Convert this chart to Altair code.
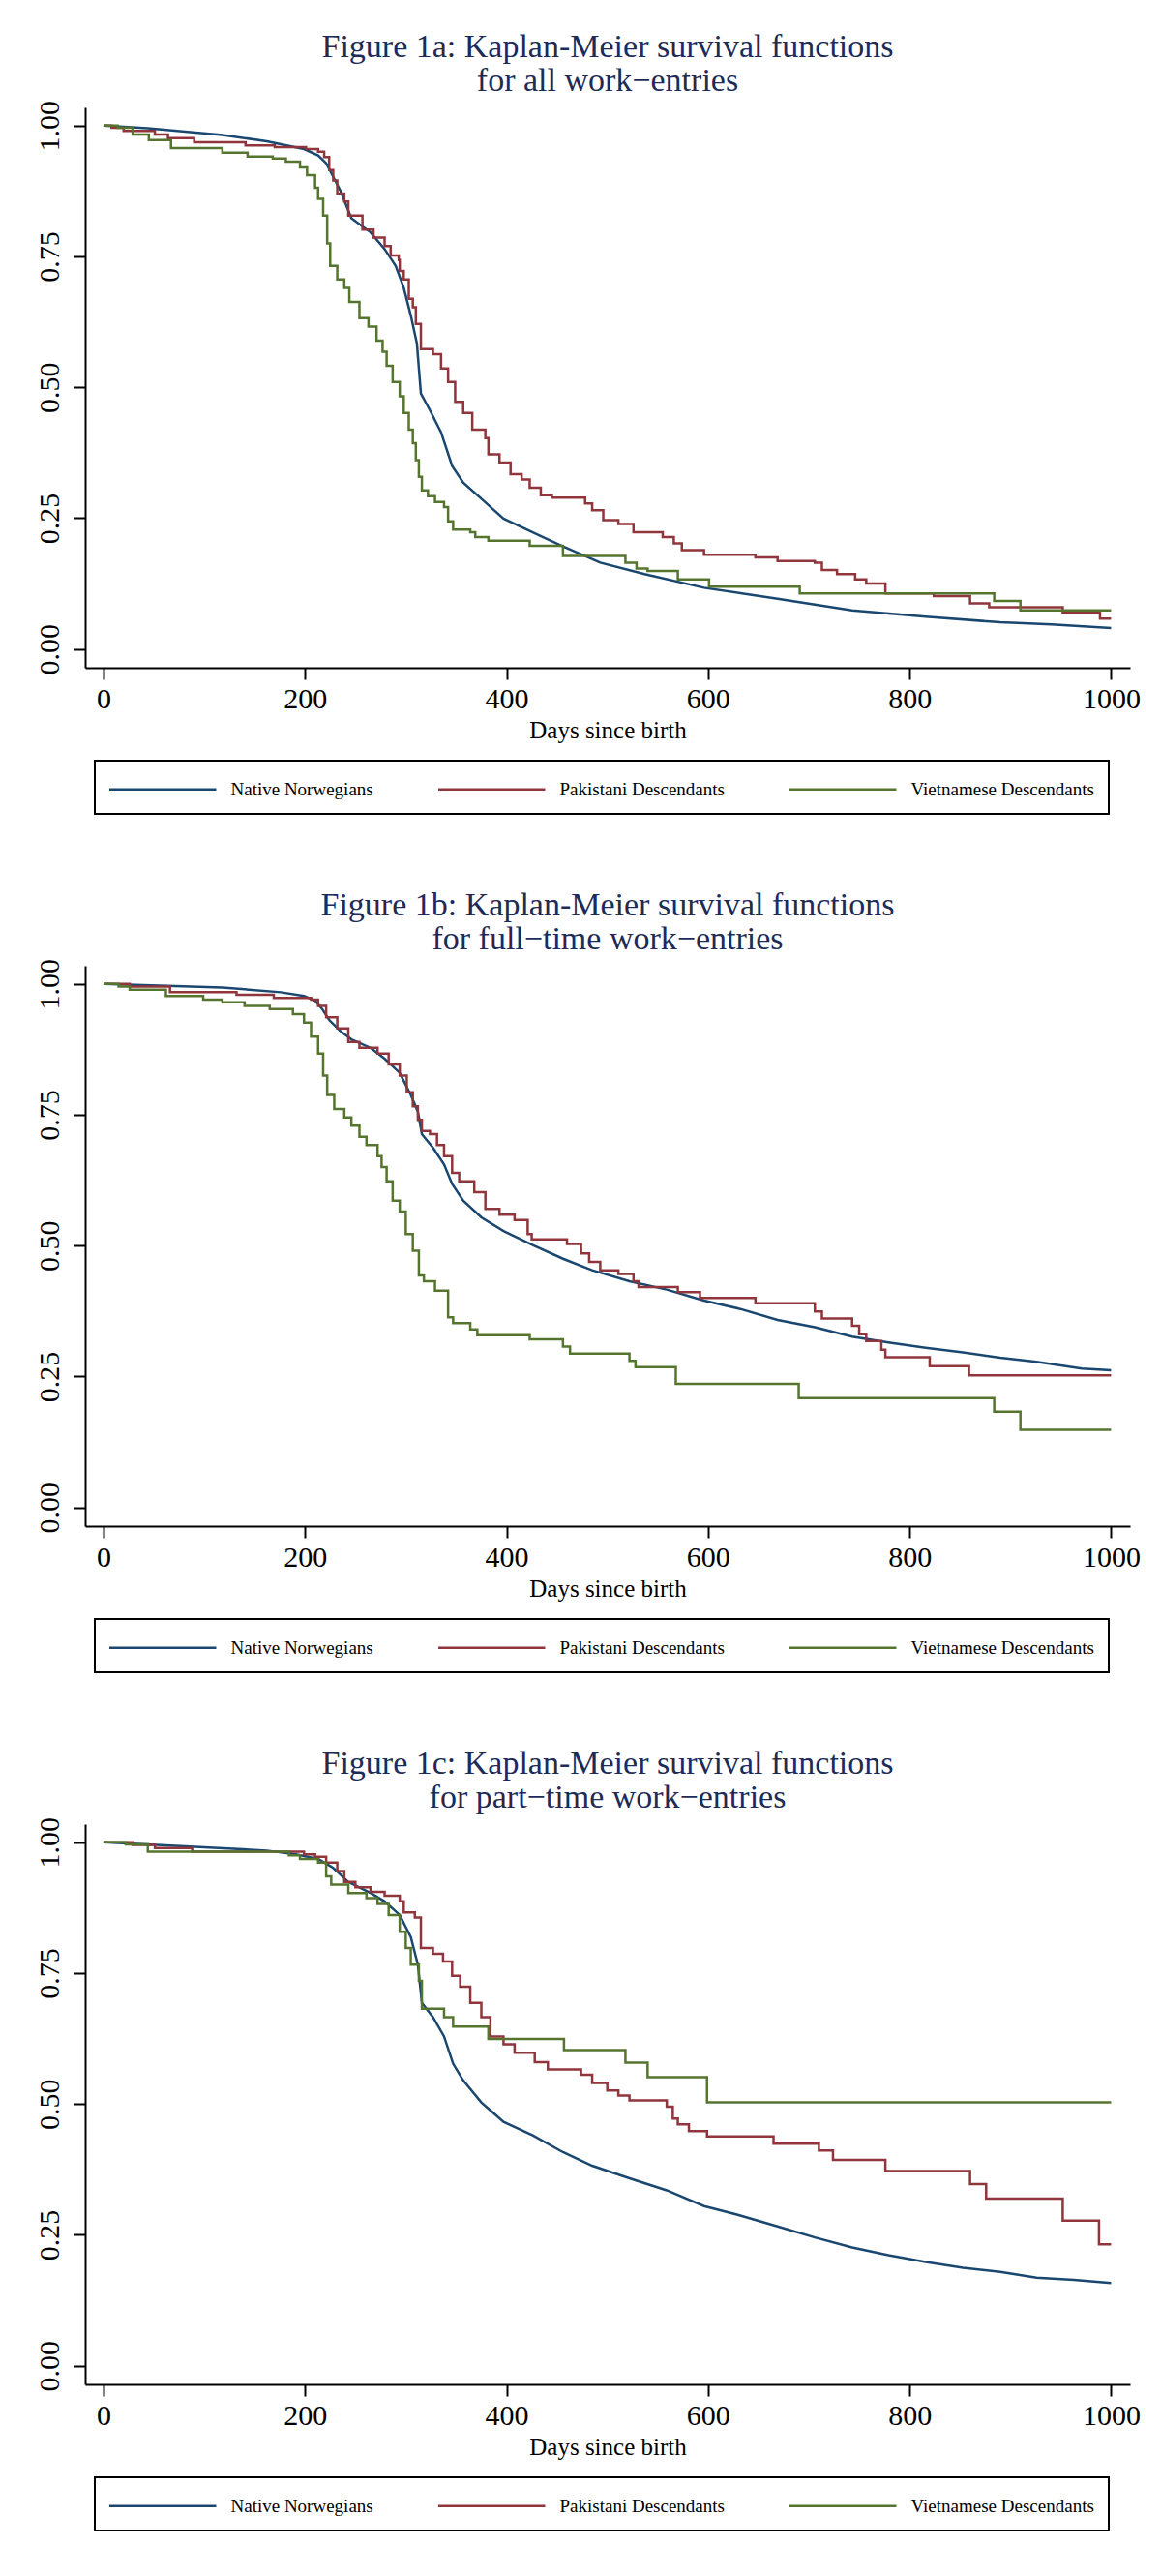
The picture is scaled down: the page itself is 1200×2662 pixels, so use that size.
import altair as alt
import pandas as pd

GROUPS = ["Native Norwegians", "Pakistani Descendants", "Vietnamese Descendants"]
COLORS = ["#1a476f", "#90353b", "#55752f"]
X_TICKS = [0, 200, 400, 600, 800, 1000]
Y_TICKS = [0.0, 0.25, 0.5, 0.75, 1.0]

TITLES = [
    ["Figure 1a: Kaplan-Meier survival functions", "for all work\u2212entries"],
    ["Figure 1b: Kaplan-Meier survival functions", "for full\u2212time work\u2212entries"],
    ["Figure 1c: Kaplan-Meier survival functions", "for part\u2212time work\u2212entries"],
]

# ---- Figure 1a: all work-entries (day, survival) ----
P1_NATIVE = [(0, 1.000), (44, 0.995), (118, 0.982), (162, 0.970), (199, 0.955), (213, 0.943),
             (221, 0.928), (228, 0.902), (235, 0.876), (246, 0.823), (265, 0.796), (279, 0.764),
             (290, 0.732), (298, 0.690), (305, 0.637), (311, 0.584), (315, 0.488), (324, 0.456),
             (335, 0.414), (346, 0.350), (357, 0.318), (375, 0.287), (397, 0.249), (426, 0.223),
             (456, 0.196), (493, 0.165), (537, 0.143), (596, 0.117), (669, 0.096), (743, 0.074),
             (816, 0.062), (890, 0.051), (941, 0.047), (1000, 0.040)]
P1_PAKISTANI = [(0, 1.000), (8, 0.996), (20, 0.990), (51, 0.983), (64, 0.976), (90, 0.968),
                (141, 0.962), (170, 0.959), (201, 0.955), (213, 0.950), (219, 0.940), (224, 0.915),
                (228, 0.895), (232, 0.870), (239, 0.855), (243, 0.828), (257, 0.801), (268, 0.786),
                (279, 0.770), (285, 0.752), (293, 0.743), (294, 0.722), (298, 0.706), (303, 0.669),
                (307, 0.653), (310, 0.621), (315, 0.573), (327, 0.563), (335, 0.536), (342, 0.510),
                (349, 0.472), (357, 0.451), (366, 0.419), (379, 0.403), (382, 0.372), (393, 0.356),
                (404, 0.334), (415, 0.324), (423, 0.308), (434, 0.294), (445, 0.289), (478, 0.278),
                (485, 0.265), (496, 0.246), (511, 0.239), (526, 0.223), (555, 0.214), (566, 0.202),
                (574, 0.189), (596, 0.180), (647, 0.175), (669, 0.168), (706, 0.165), (713, 0.151),
                (728, 0.143), (746, 0.133), (757, 0.125), (776, 0.106), (824, 0.101), (860, 0.087),
                (879, 0.080), (952, 0.069), (989, 0.058), (1000, 0.058)]
P1_VIETNAMESE = [(0, 1.000), (14, 0.996), (29, 0.983), (45, 0.972), (67, 0.957), (118, 0.948),
                 (143, 0.941), (168, 0.937), (181, 0.931), (195, 0.920), (202, 0.905), (210, 0.881),
                 (213, 0.860), (218, 0.828), (222, 0.775), (225, 0.732), (232, 0.706), (239, 0.690),
                 (244, 0.663), (254, 0.632), (263, 0.616), (271, 0.589), (277, 0.568), (281, 0.541),
                 (287, 0.510), (294, 0.483), (298, 0.451), (303, 0.419), (307, 0.393), (310, 0.361),
                 (313, 0.329), (316, 0.303), (322, 0.292), (329, 0.281), (338, 0.271), (342, 0.244),
                 (347, 0.228), (364, 0.223), (369, 0.214), (382, 0.207), (423, 0.197), (456, 0.178),
                 (518, 0.165), (529, 0.154), (540, 0.149), (570, 0.133), (601, 0.119), (691, 0.106),
                 (884, 0.092), (910, 0.074), (1000, 0.074)]

# ---- Figure 1b: full-time work-entries ----
P2_NATIVE = [(0, 1.000), (118, 0.993), (176, 0.984), (199, 0.977), (210, 0.968), (217, 0.952),
             (224, 0.931), (235, 0.910), (246, 0.894), (265, 0.878), (279, 0.857), (294, 0.830),
             (305, 0.788), (312, 0.756), (316, 0.713), (327, 0.687), (338, 0.655), (346, 0.618),
             (357, 0.586), (375, 0.554), (397, 0.528), (426, 0.501), (456, 0.475), (485, 0.453),
             (522, 0.432), (559, 0.416), (596, 0.395), (632, 0.379), (669, 0.358), (706, 0.344),
             (743, 0.326), (779, 0.315), (816, 0.305), (853, 0.296), (890, 0.286), (926, 0.278),
             (971, 0.265), (1000, 0.262)]
P2_PAKISTANI = [(0, 1.000), (26, 0.995), (66, 0.984), (132, 0.979), (169, 0.973), (206, 0.970),
                (213, 0.958), (221, 0.936), (232, 0.915), (243, 0.889), (254, 0.878), (272, 0.867),
                (283, 0.846), (294, 0.825), (301, 0.793), (307, 0.766), (312, 0.740), (316, 0.719),
                (324, 0.713), (331, 0.692), (338, 0.671), (346, 0.639), (353, 0.623), (368, 0.602),
                (379, 0.570), (393, 0.559), (408, 0.549), (421, 0.522), (425, 0.512), (460, 0.503),
                (474, 0.485), (482, 0.469), (493, 0.453), (511, 0.446), (526, 0.432), (531, 0.421),
                (570, 0.411), (592, 0.400), (647, 0.390), (706, 0.374), (713, 0.361), (743, 0.347),
                (750, 0.331), (757, 0.318), (772, 0.301), (776, 0.287), (820, 0.270), (859, 0.252),
                (1000, 0.252)]
P2_VIETNAMESE = [(0, 1.000), (15, 0.995), (26, 0.989), (62, 0.977), (99, 0.970), (118, 0.965),
                 (140, 0.958), (165, 0.952), (188, 0.942), (199, 0.926), (206, 0.899), (213, 0.867),
                 (218, 0.825), (222, 0.788), (229, 0.761), (239, 0.745), (246, 0.729), (254, 0.708),
                 (261, 0.692), (272, 0.671), (276, 0.650), (281, 0.623), (287, 0.586), (294, 0.565),
                 (300, 0.522), (307, 0.490), (313, 0.443), (318, 0.432), (329, 0.414), (342, 0.363),
                 (347, 0.352), (364, 0.340), (371, 0.329), (423, 0.321), (456, 0.307), (463, 0.294),
                 (522, 0.280), (528, 0.268), (568, 0.236), (690, 0.209), (884, 0.183), (910, 0.148),
                 (1000, 0.148)]

# ---- Figure 1c: part-time work-entries ----
P3_NATIVE = [(0, 1.000), (81, 0.992), (162, 0.984), (191, 0.977), (213, 0.968), (228, 0.951),
             (243, 0.924), (265, 0.903), (279, 0.887), (294, 0.861), (305, 0.819), (312, 0.766),
             (316, 0.693), (327, 0.666), (338, 0.629), (347, 0.577), (357, 0.545), (375, 0.503),
             (397, 0.466), (426, 0.440), (456, 0.408), (485, 0.382), (522, 0.358), (559, 0.335),
             (596, 0.305), (632, 0.287), (669, 0.266), (706, 0.245), (743, 0.226), (779, 0.211),
             (816, 0.198), (853, 0.187), (890, 0.179), (926, 0.168), (963, 0.164), (1000, 0.158)]
P3_PAKISTANI = [(0, 1.000), (29, 0.995), (51, 0.989), (88, 0.982), (199, 0.977), (210, 0.972),
                (221, 0.961), (232, 0.945), (239, 0.924), (250, 0.914), (265, 0.905), (279, 0.898),
                (294, 0.887), (298, 0.866), (309, 0.856), (315, 0.798), (327, 0.787), (337, 0.772),
                (346, 0.745), (354, 0.724), (364, 0.693), (375, 0.666), (384, 0.629), (397, 0.614),
                (408, 0.598), (428, 0.580), (441, 0.566), (474, 0.556), (485, 0.540), (500, 0.526),
                (511, 0.516), (522, 0.507), (559, 0.495), (565, 0.472), (570, 0.461), (581, 0.448),
                (599, 0.438), (665, 0.424), (710, 0.411), (724, 0.393), (776, 0.372), (860, 0.347),
                (876, 0.319), (952, 0.277), (988, 0.232), (1000, 0.232)]
P3_VIETNAMESE = [(0, 1.000), (22, 0.996), (44, 0.982), (184, 0.975), (195, 0.968), (213, 0.961),
                 (221, 0.935), (226, 0.919), (243, 0.903), (261, 0.893), (272, 0.882), (283, 0.861),
                 (294, 0.829), (300, 0.798), (305, 0.766), (313, 0.735), (316, 0.682), (338, 0.666),
                 (347, 0.648), (382, 0.624), (457, 0.603), (518, 0.579), (540, 0.551), (599, 0.503),
                 (1000, 0.503)]

FONT = "Liberation Serif"
TITLE_COLOR = "#1c2b57"


def frame(native, pak, viet):
    rows = []
    for name, series in zip(GROUPS, [native, pak, viet]):
        for d, s in series:
            rows.append({"day": d, "surv": s, "group": name})
    return pd.DataFrame(rows)


def panel(series, title_lines):
    df = frame(*series)
    base = alt.Chart(df).encode(
        x=alt.X("day:Q",
                scale=alt.Scale(domain=[-18.2, 1018.8], nice=False, zero=False),
                axis=alt.Axis(values=X_TICKS, format="d", title="Days since birth",
                              titleFont=FONT, titleFontSize=25, titleFontWeight="normal",
                              titleColor="black", titleBaseline="alphabetic", titleY=72,
                              labelFontSize=30, labelPadding=5)),
        y=alt.Y("surv:Q",
                scale=alt.Scale(domain=[-0.0357, 1.0346], nice=False, zero=False),
                axis=alt.Axis(values=Y_TICKS, format=".2f", title=None,
                              labelFontSize=30, labelAngle=270, labelAlign="center",
                              labelBaseline="alphabetic", labelPadding=16)),
        color=alt.Color("group:N",
                        scale=alt.Scale(domain=GROUPS, range=COLORS),
                        legend=alt.Legend(title=None, orient="none", legendX=10, legendY=675,
                                          direction="horizontal", columns=3,
                                          symbolType="M0,0H8.5", symbolSize=676,
                                          symbolStrokeWidth=2.5, symbolOffset=-14.5,
                                          labelOffset=111, labelFont=FONT, labelFontSize=19,
                                          labelColor="black", labelLimit=400,
                                          columnPadding=62, padding=15,
                                          strokeColor="black")),
    )
    native_line = base.mark_line(interpolate="linear", strokeWidth=2.5).transform_filter(
        alt.datum.group == GROUPS[0])
    step_lines = base.mark_line(interpolate="step-after", strokeWidth=2.5).transform_filter(
        alt.datum.group != GROUPS[0])
    return alt.layer(native_line, step_lines).properties(
        width=1080, height=579,
        title=alt.Title(text=title_lines, font=FONT, fontSize=34, lineHeight=35,
                        fontWeight="normal", color=TITLE_COLOR, anchor="middle",
                        frame="group", baseline="alphabetic", offset=-25),
    )


chart = alt.vconcat(
    panel((P1_NATIVE, P1_PAKISTANI, P1_VIETNAMESE), TITLES[0]),
    panel((P2_NATIVE, P2_PAKISTANI, P2_VIETNAMESE), TITLES[1]),
    panel((P3_NATIVE, P3_PAKISTANI, P3_VIETNAMESE), TITLES[2]),
    spacing=77,
).resolve_scale(color="independent").resolve_legend(color="independent").properties(
    padding={"left": 28, "top": 24, "right": 5, "bottom": 5},
    background="white",
).configure_view(stroke=None).configure_axis(
    grid=False, domainColor="black", tickColor="black", labelColor="black",
    labelFont=FONT, domainWidth=2, tickWidth=2, tickSize=12,
).configure_legend(strokeWidth=2)

chart.save("out.html", embed_options={"renderer": "svg", "actions": False})
